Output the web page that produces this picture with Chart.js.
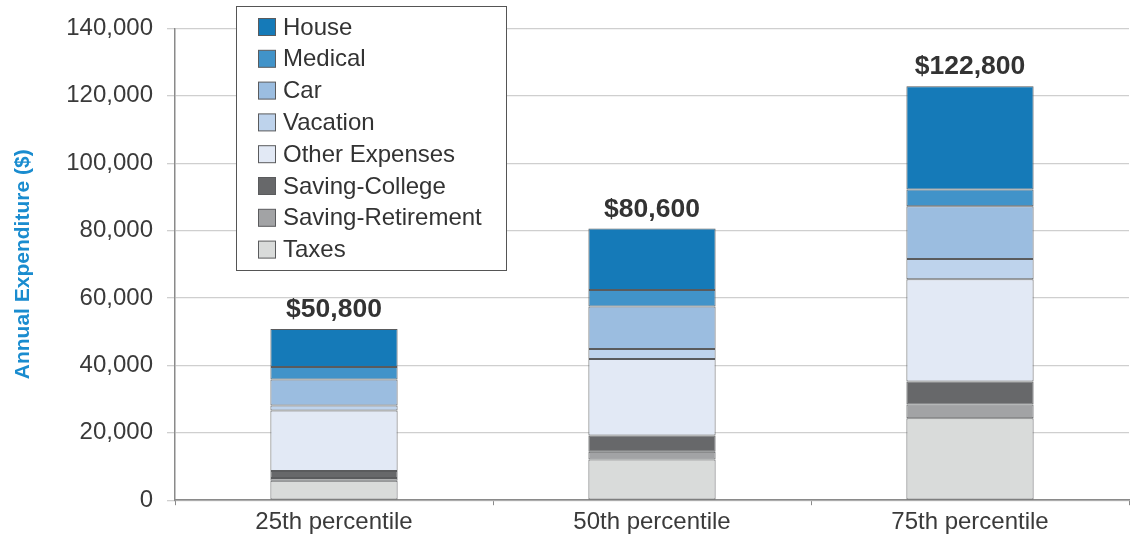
<!DOCTYPE html>
<html>
<head>
<meta charset="utf-8">
<script src="https://cdn.jsdelivr.net/npm/chart.js@4.4.1/dist/chart.umd.min.js"></script>
<style>
  html, body { margin: 0; padding: 0; background: #fff; }
  #wrap { width: 1130px; height: 540px; }
</style>
</head>
<body>
<div id="wrap"><canvas id="myChart" width="1130" height="540"></canvas></div>
<script>
// categories and series ($, stacked bottom to top)
const categories = ['25th percentile', '50th percentile', '75th percentile'];
const totals = [50800, 80600, 122800];
const taxes = [5800, 12100, 24300];
const savingRetirement = [800, 2300, 4100];
const savingCollege = [2100, 4800, 6800];
const otherExpenses = [17900, 22700, 30400];
const vacation = [1500, 3000, 6000];
const car = [7700, 12600, 15600];
const medical = [3700, 4900, 5000];
const house = [11300, 18200, 30600];
const yTicks = [0, 20000, 40000, 60000, 80000, 100000, 120000, 140000];

const FONT = 'Liberation Sans, Arial, sans-serif';

function ds(label, data, color) {
    return {
        label: label,
        data: data,
        backgroundColor: color,
        borderColor: '#5a5b5d',
        borderWidth: 1,
        borderSkipped: false,
        barPercentage: 0.4,
        categoryPercentage: 1.0
    };
}

// draws the boxed legend and the totals over each bar
const extras = {
    id: 'extras',
    afterDatasetsDraw(chart) {
        const c = chart.ctx;
        const x = chart.scales.x, y = chart.scales.y;

        c.save();
        c.font = 'bold 26.5px ' + FONT;
        c.fillStyle = '#333333';
        c.textAlign = 'center';
        c.textBaseline = 'bottom';
        totals.forEach(function (t, i) {
            c.fillText('$' + t.toLocaleString('en-US'), x.getPixelForValue(i), y.getPixelForValue(t) - 6);
        });

        // legend box
        const bx = 236.5, by = 6.5, bw = 270, bh = 264;
        c.fillStyle = '#ffffff';
        c.fillRect(bx, by, bw, bh);
        c.strokeStyle = '#555555';
        c.lineWidth = 1;
        c.strokeRect(bx, by, bw, bh);
        const items = chart.data.datasets.slice().reverse();
        c.font = '24px ' + FONT;
        c.textAlign = 'left';
        c.textBaseline = 'middle';
        items.forEach(function (d, i) {
            const cy = 27 + i * 31.8;
            c.fillStyle = d.backgroundColor;
            c.fillRect(258.5, cy - 8.5, 17, 17);
            c.strokeStyle = '#5a5b5d';
            c.strokeRect(258.5, cy - 8.5, 17, 17);
            c.fillStyle = '#333333';
            c.fillText(d.label, 283, cy + 1);
        });
        c.restore();
    }
};

new Chart(document.getElementById('myChart'), {
    type: 'bar',
    data: {
        labels: categories,
        datasets: [
            ds('Taxes', taxes, '#d9dbda'),
            ds('Saving-Retirement', savingRetirement, '#a2a3a5'),
            ds('Saving-College', savingCollege, '#67686a'),
            ds('Other Expenses', otherExpenses, '#e2e9f5'),
            ds('Vacation', vacation, '#bed3ec'),
            ds('Car', car, '#9bbde0'),
            ds('Medical', medical, '#4193c9'),
            ds('House', house, '#157ab8')
        ]
    },
    options: {
        responsive: false,
        animation: false,
        layout: { padding: { top: 19, right: 1, left: 11, bottom: 0 } },
        plugins: {
            legend: { display: false },
            tooltip: { enabled: false }
        },
        scales: {
            x: {
                stacked: true,
                border: { display: true, color: '#8a8a8a', width: 1.5 },
                grid: { display: true, drawOnChartArea: false, offset: true, tickLength: 5, color: '#8a8a8a' },
                ticks: { color: '#3a3a3a', font: { family: FONT, size: 24 }, padding: 3 }
            },
            y: {
                stacked: true,
                min: 0,
                max: 140000,
                afterBuildTicks: function (scale) {
                    scale.ticks = yTicks.map(function (v) { return { value: v }; });
                },
                afterFit: function (scale) { scale.width = 164; },
                border: { display: true, color: '#8a8a8a', width: 1.5 },
                grid: { color: '#cfcfcf', lineWidth: 1.3, tickLength: 8 },
                ticks: {
                    color: '#3a3a3a',
                    font: { family: FONT, size: 24 },
                    padding: 14,
                    callback: function (v) { return v.toLocaleString('en-US'); }
                },
                title: {
                    display: true,
                    text: 'Annual Expenditure ($)',
                    color: '#1a8ccf',
                    font: { family: FONT, size: 21, weight: 'bold' },
                    padding: { top: 0, bottom: 0 }
                }
            }
        }
    },
    plugins: [extras]
});
</script>
</body>
</html>
